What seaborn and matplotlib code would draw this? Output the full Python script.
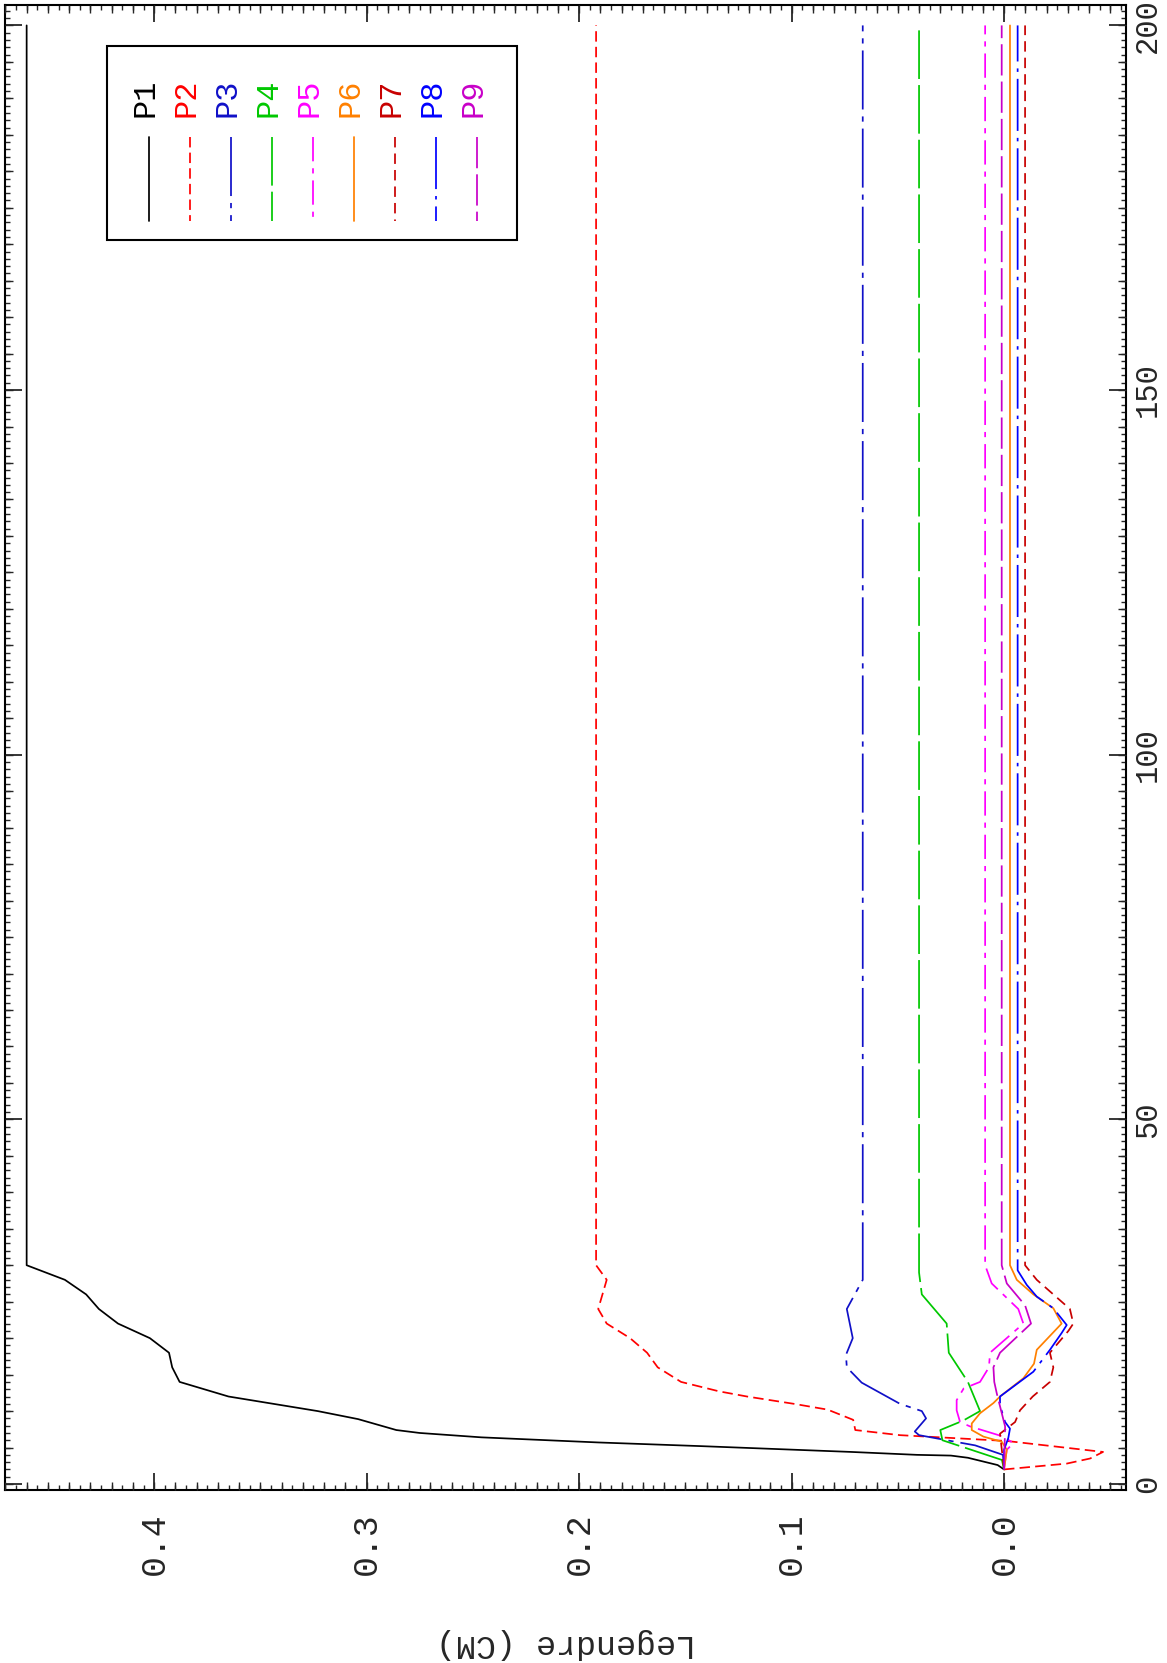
import numpy as np
import pandas as pd
import seaborn as sns
from matplotlib import pyplot as plt
from matplotlib.ticker import MultipleLocator, NullLocator
from matplotlib.lines import Line2D
from matplotlib.patches import Rectangle

sns.set_style("white")
plt.rcParams['font.family'] = ['Liberation Mono', 'DejaVu Sans Mono']

#series (iteration, legendre value)
names = ['P1', 'P2', 'P3', 'P4', 'P5', 'P6', 'P7', 'P8', 'P9']

p1_it = [2, 2.6, 3.1, 3.6, 3.9, 4.0, 4.4, 5.2, 5.7, 6.4, 7.0, 7.4, 8.9, 10, 12, 14, 16, 18, 20, 22, 24, 26, 28, 30, 200]
p1_val = [0.0, 0.003, 0.010, 0.017, 0.025, 0.041, 0.072, 0.143, 0.191, 0.246, 0.275, 0.286, 0.304, 0.323,
          0.365, 0.388, 0.3915, 0.393, 0.402, 0.417, 0.426, 0.432, 0.442, 0.460, 0.460]

p2_it = [2, 2.8, 3.5, 4.4, 5.9, 6.7, 7.4, 8.8, 10.2, 11, 12, 12.7, 14, 16, 18, 20, 22, 24, 28, 30, 200]
p2_val = [0.0, -0.0295, -0.0405, -0.0466, -0.0013, 0.049, 0.070, 0.071, 0.083, 0.099, 0.121, 0.134,
          0.152, 0.163, 0.168, 0.176, 0.187, 0.191, 0.187, 0.192, 0.192]

p3_it = [2, 4, 5.3, 5.9, 6.7, 7.2, 9, 10, 11, 13.9, 16, 17.7, 20, 24, 28, 200]
p3_val = [0.0, 0.0005, 0.0136, 0.025, 0.040, 0.042, 0.0367, 0.0387, 0.049, 0.067, 0.074, 0.0744,
          0.0712, 0.074, 0.0665, 0.0665]

p4_it = [2, 3.3, 6, 7.4, 8.7, 10, 14, 18, 22, 26, 29, 200]
p4_val = [0.0, 0.001, 0.029, 0.030, 0.0192, 0.0113, 0.017, 0.026, 0.027, 0.0387, 0.040, 0.040]

p5_it = [2, 4.7, 5.6, 6.5, 7.9, 8.5, 10.1, 11.5, 13.1, 14, 16, 18, 22, 24, 27.5, 30, 200]
p5_val = [0.0, -0.0013, -0.0044, 0.0003, 0.016, 0.0207, 0.0223, 0.0223, 0.019, 0.0113, 0.0071, 0.0066,
          -0.0091, -0.0067, 0.0058, 0.0089, 0.0089]

p6_it = [2, 4.7, 5.8, 6.5, 7.4, 8.3, 9.7, 11.1, 12, 14.5, 16.5, 18.4, 22, 24.1, 26, 28, 30, 200]
p6_val = [0.0, -0.0013, 0.0011, 0.0097, 0.0152, 0.0152, 0.0113, 0.005, 0.0019, -0.0091, -0.0141, -0.0154,
          -0.0271, -0.0232, -0.0138, -0.006, -0.0028, -0.0028]

p7_it = [2, 6.9, 8.5, 10.1, 12, 14, 16, 18, 21, 22, 24, 28, 30, 200]
p7_val = [0.0, 0.0019, -0.0052, -0.0075, -0.0135, -0.0216, -0.0232, -0.0216, -0.0303, -0.0326, -0.031,
          -0.0154, -0.0099, -0.0099]

p8_it = [2, 4.7, 6.3, 7.6, 8.5, 10.8, 12, 15.4, 18.4, 20.7, 21.8, 24.1, 25.7, 27.3, 29.3, 200]
p8_val = [0.0, 0.0, -0.002, -0.0028, -0.0005, 0.0019, 0.0019, -0.0138, -0.0216, -0.0271, -0.0295,
          -0.0232, -0.0154, -0.0107, -0.0064, -0.0064]

p9_it = [2, 7.9, 12.4, 14, 16, 18, 22, 24.5, 27.5, 30, 200]
p9_val = [0.0, -0.0005, 0.0034, 0.0046, 0.005, 0.0019, -0.0127, -0.0099, -0.0013, 0.0011, 0.0011]

colors = {'P1': 'black', 'P2': '#ff0000', 'P3': '#1010c8', 'P4': '#00c800', 'P5': '#ff00ff',
          'P6': '#ff8000', 'P7': '#c80000', 'P8': '#0000ff', 'P9': '#c800c8'}
dashes = {'P1': '', 'P2': (6, 3), 'P3': (34, 4, 3, 4), 'P4': (28, 3.5), 'P5': (14, 4, 3, 4),
          'P6': '', 'P7': (6, 3.5), 'P8': (30, 4, 2, 4), 'P9': (18, 3.5)}

its = [p1_it, p2_it, p3_it, p4_it, p5_it, p6_it, p7_it, p8_it, p9_it]
vals = [p1_val, p2_val, p3_val, p4_val, p5_val, p6_val, p7_val, p8_val, p9_val]
frames = []
for name, it, val in zip(names, its, vals):
    frames.append(pd.DataFrame({'name': name, 'it': it, 'val': val}))
df = pd.concat(frames, ignore_index=True)

W, H = 1167, 1663
fig = plt.figure(figsize=(W / 100, H / 100), dpi=100)
ax = fig.add_axes([5.4 / W, 1 - 1490 / H, (1126 - 5.4) / W, (1490 - 5) / H])

sns.lineplot(data=df, x='val', y='it', hue='name', style='name', palette=colors, dashes=dashes,
             sort=False, estimator=None, legend=False, linewidth=1.25, ax=ax)

xlim = (0.470, -0.0574)
ylim = (-0.82, 202.8)
ax.set_xlim(xlim)
ax.set_ylim(ylim)

#medium ticks every 5 iterations and every 0.01 (twins made first, they reset the main ticks)
axm = ax.twinx()
axn = ax.twiny()
axm.set_ylim(ylim)
axm.set_yticks(np.arange(0, 201, 5))
axm.yaxis.set_minor_locator(NullLocator())
axm.tick_params(axis='y', direction='in', left=True, right=True, labelleft=False, labelright=False,
                length=6, width=1.0)
axn.set_xlim(xlim)
axn.set_xticks(np.arange(-0.05, 0.471, 0.01))
axn.xaxis.set_minor_locator(NullLocator())
axn.tick_params(axis='x', direction='in', top=True, bottom=True, labeltop=False, labelbottom=False,
                length=6, width=1.0)
for a in (axm, axn):
    for s in a.spines.values():
        s.set_visible(False)

ax.set_xticks([0.0, 0.1, 0.2, 0.3, 0.4])
ax.set_xticklabels(['0.0', '0.1', '0.2', '0.3', '0.4'])
ax.xaxis.set_minor_locator(MultipleLocator(0.005))
ax.set_yticks([0, 50, 100, 150, 200])
ax.set_yticklabels(['0', '50', '100', '150', '200'])
ax.yaxis.set_minor_locator(MultipleLocator(1))
ax.tick_params(which='both', direction='in', top=True, bottom=True, left=True, right=True,
               labelleft=False, labelright=True, labelbottom=True, labeltop=False)
ax.tick_params(which='major', length=12, width=1.3)
ax.tick_params(which='minor', length=3.5, width=1.0)
ax.tick_params(axis='x', which='major', labelrotation=90, pad=16, labelsize=25)
ax.tick_params(axis='y', which='major', labelrotation=90, pad=5, labelsize=22)
for lab in ax.get_yticklabels():
    lab.set_va('center')
ax.set_xlabel('Legendre (CM)', rotation=180, fontsize=24, labelpad=38)
ax.set_ylabel('')
for s in ax.spines.values():
    s.set_linewidth(1.5)
    s.set_color('black')

#legend drawn rotated like the rest of the page
fig.add_artist(Rectangle((107 / W, 1 - 240 / H), (517 - 107) / W, (240 - 46) / H,
                         transform=fig.transFigure, fill=False, lw=1.5, ec='black'))
for i, name in enumerate(names):
    lx = (148.7 + 41 * i) / W
    ls = '-' if dashes[name] == '' else (0, dashes[name])
    fig.add_artist(Line2D([lx, lx], [1 - 137 / H, 1 - 221 / H], transform=fig.transFigure,
                          color=colors[name], lw=1.25, linestyle=ls))
    fig.text(lx - 3 / W, 1 - 117 / H, name, rotation=90, ha='center', va='bottom',
             color=colors[name], fontsize=23)

fig.savefig('out.png', dpi=100)
